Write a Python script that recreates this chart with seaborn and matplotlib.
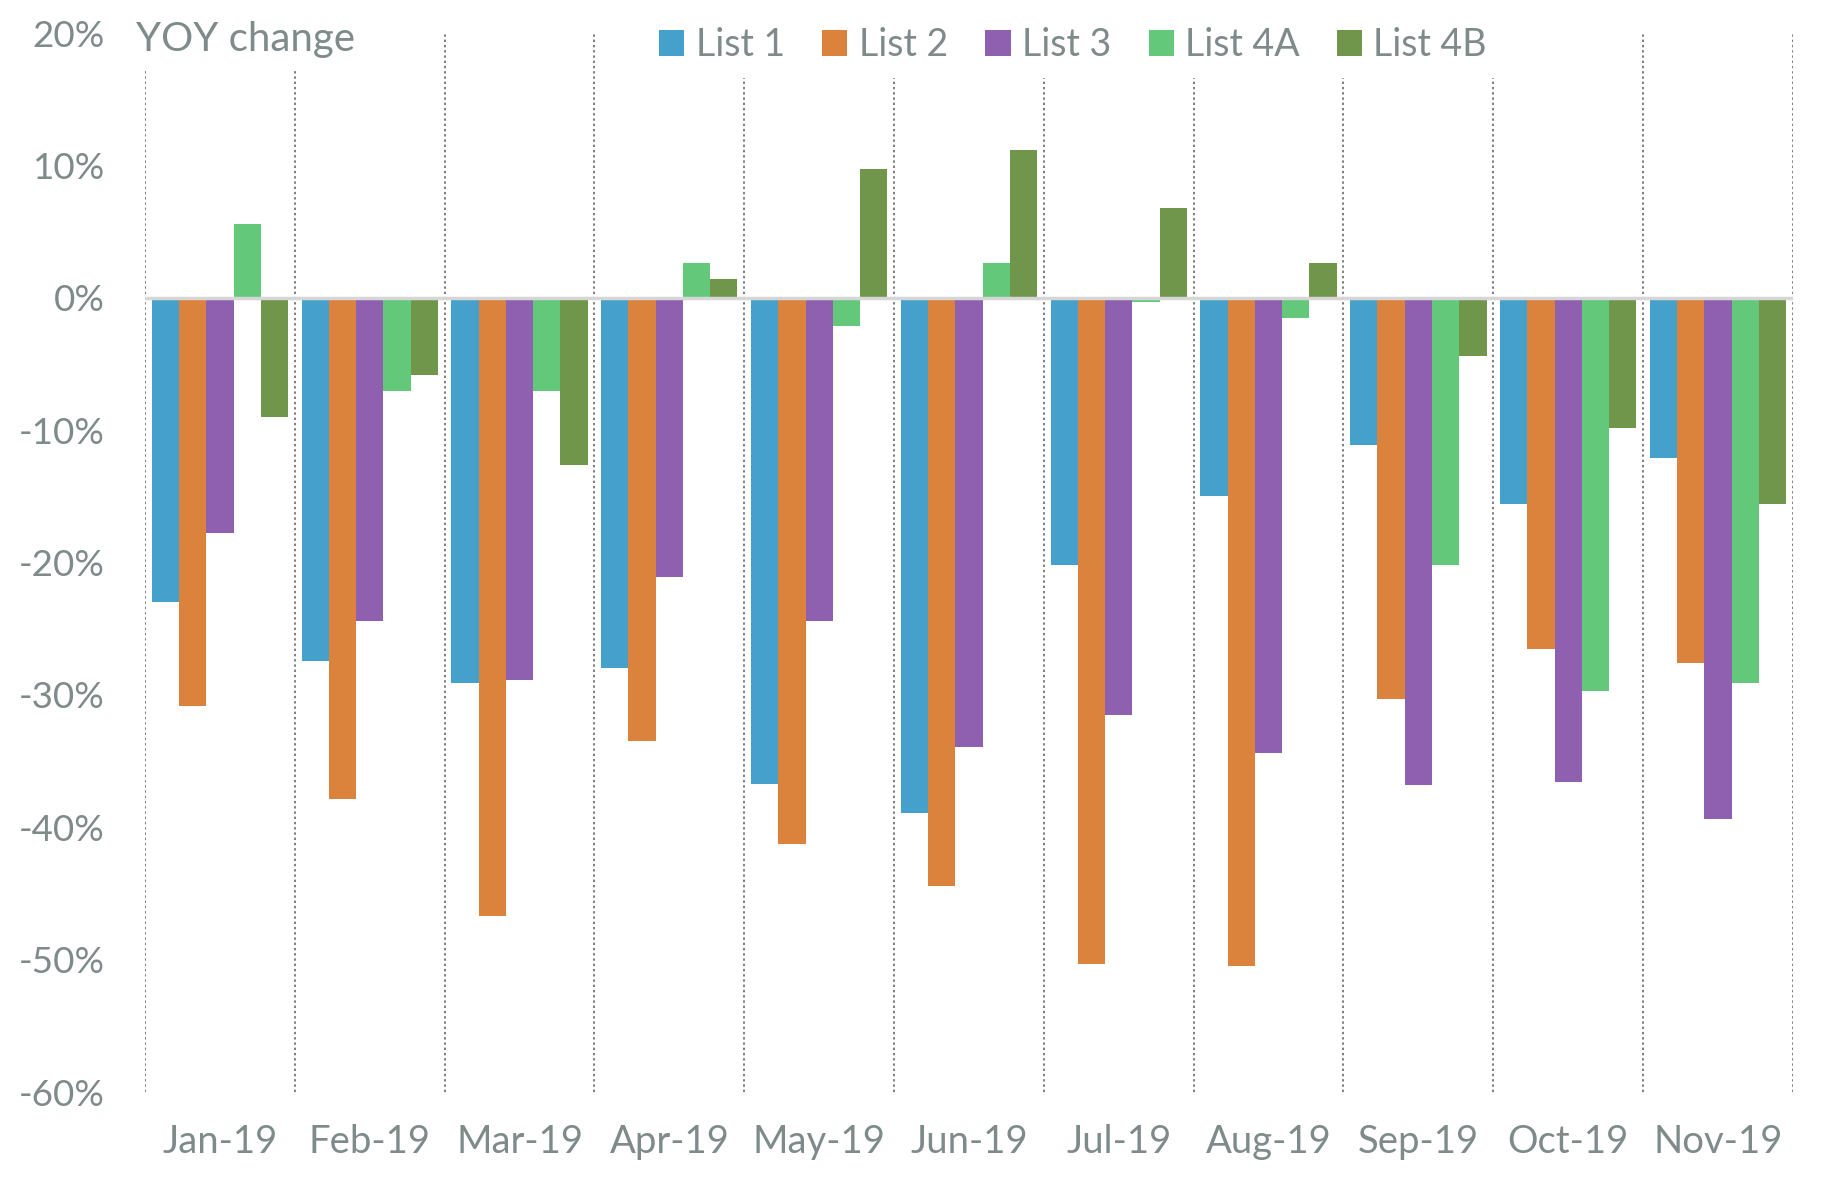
import numpy as np
import pandas as pd
import matplotlib
matplotlib.use("Agg")
import matplotlib.pyplot as plt
import seaborn as sns
from matplotlib.ticker import FuncFormatter

# Data (YOY change, %)
months = ["Jan-19", "Feb-19", "Mar-19", "Apr-19", "May-19", "Jun-19",
          "Jul-19", "Aug-19", "Sep-19", "Oct-19", "Nov-19"]
series = ["List 1", "List 2", "List 3", "List 4A", "List 4B"]
list1 = [-23.0, -27.4, -29.1, -28.0, -36.7, -38.9, -20.2, -15.0, -11.1, -15.6, -12.1]
list2 = [-30.8, -37.9, -46.7, -33.5, -41.3, -44.4, -50.3, -50.5, -30.3, -26.5, -27.6]
list3 = [-17.8, -24.4, -28.9, -21.1, -24.4, -33.9, -31.5, -34.4, -36.8, -36.6, -39.4]
list4a = [5.6, -7.0, -7.0, 2.6, -2.1, 2.6, -0.35, -1.5, -20.2, -29.7, -29.1]
list4b = [-9.0, -5.8, -12.6, 1.4, 9.75, 11.2, 6.8, 2.6, -4.4, -9.8, -15.6]
colors = ["#45a0cb", "#db823c", "#8f5fb0", "#63c87a", "#6f964a"]

rows = []
for name, vals in zip(series, [list1, list2, list3, list4a, list4b]):
    for m, v in zip(months, vals):
        rows.append({"month": m, "series": name, "value": v / 100})
df = pd.DataFrame(rows)

sns.set_style("white")
plt.rcParams["font.family"] = ["Lato", "DejaVu Sans"]
grey = "#7f8a8a"

fig = plt.figure(figsize=(18.22, 11.84), dpi=100)
ax = fig.add_axes([0.0796, 0.0777, 0.9044, 0.8943])

sns.barplot(data=df, x="month", y="value", hue="series", order=months,
            hue_order=series, palette=colors, width=0.91, linewidth=0,
            saturation=1, ax=ax, zorder=3)

ax.set_ylim(-0.6, 0.2)
ax.set_xlim(-0.5, len(months) - 0.5)
ax.set_yticks(np.arange(-0.6, 0.21, 0.1))
ax.yaxis.set_major_formatter(FuncFormatter(lambda v, p: f"{round(v * 100):.0f}%"))
ax.set_xlabel("")
ax.set_ylabel("")
for s in ax.spines.values():
    s.set_visible(False)
ax.tick_params(axis="y", length=0, pad=29, labelsize=26.5, labelcolor=grey)
ax.tick_params(axis="x", length=0, pad=23, labelsize=27.5, labelcolor=grey)

# dotted separators between months
ax.set_xticks(np.arange(-0.5, len(months), 1), minor=True)
ax.tick_params(axis="x", which="minor", length=0)
ax.grid(False)
ax.grid(True, which="minor", axis="x", color="#7d7d7d", linestyle=(0, (1.2, 1.5)), linewidth=1.4, zorder=1)
ax.set_axisbelow(True)
ax.axhline(0, color="#d6d6d6", linewidth=2.5, zorder=4)

ax.text(0.0746, 0.967, "YOY change", transform=fig.transFigure, fontsize=29,
        color=grey, ha="left", va="center",
        bbox=dict(facecolor="white", edgecolor="none", pad=9))

leg = ax.legend(loc="center", bbox_to_anchor=(0.589, 0.962), bbox_transform=fig.transFigure,
                ncol=5, fontsize=27, frameon=True, facecolor="white", edgecolor="none",
                framealpha=1, handlelength=0.67, handleheight=0.7, handletextpad=0.3,
                columnspacing=1.0, borderpad=0.4)
for t in leg.get_texts():
    t.set_color(grey)

fig.savefig("out.png", dpi=100)
